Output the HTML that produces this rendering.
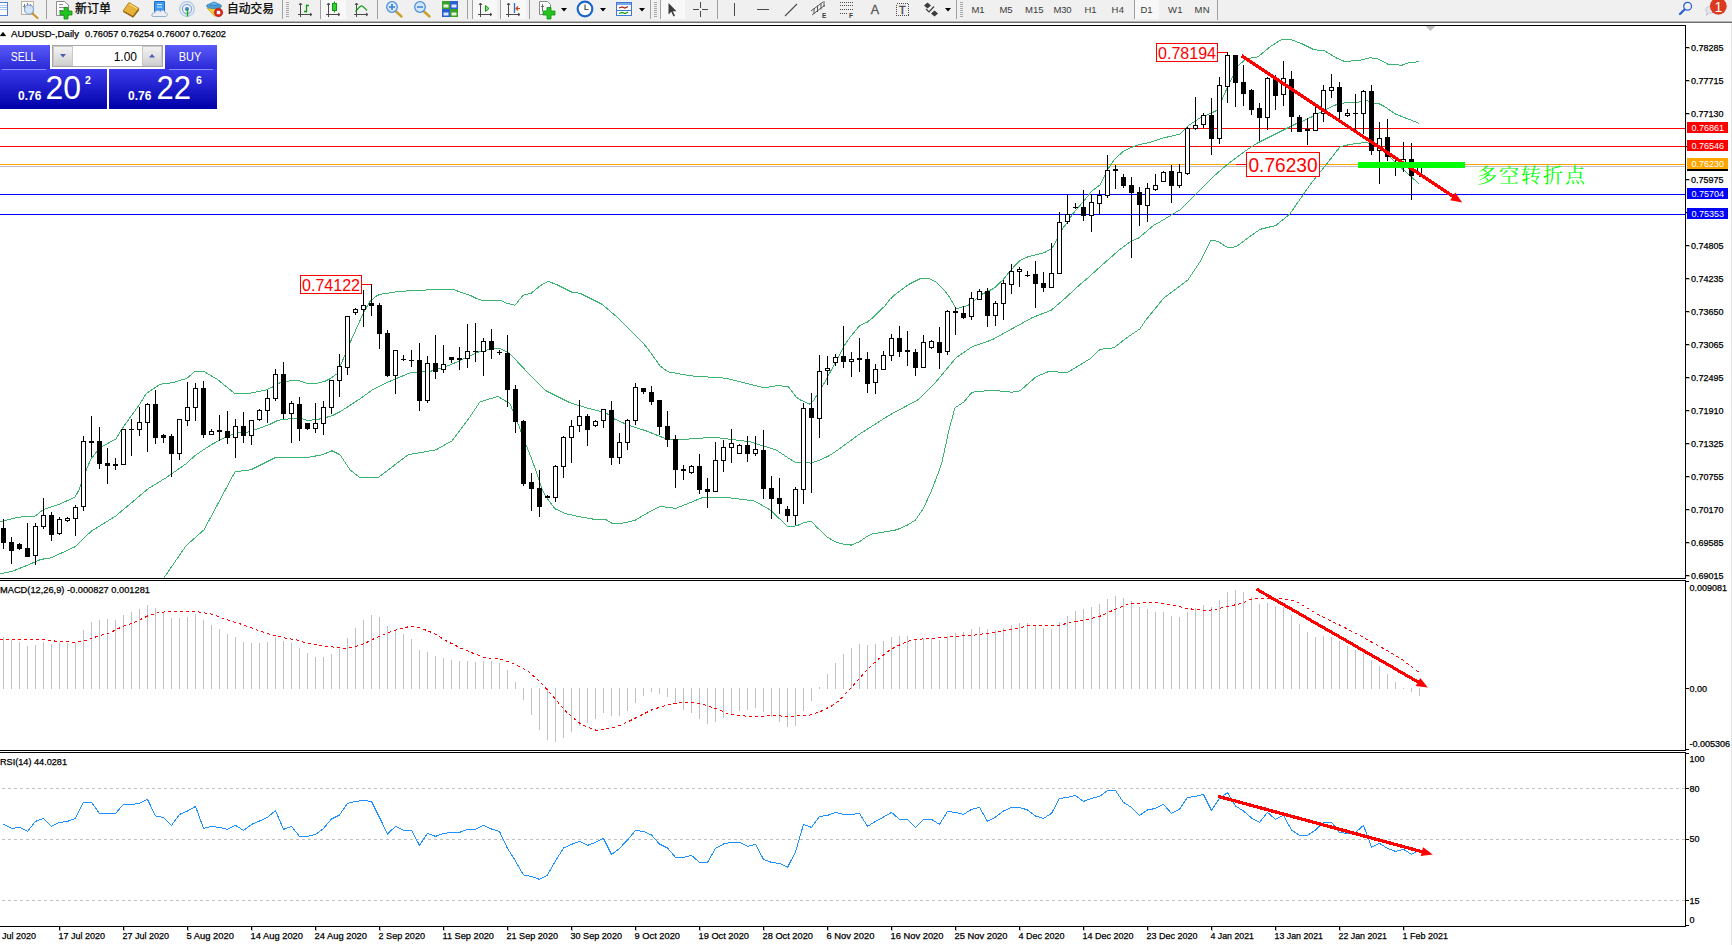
<!DOCTYPE html><html><head><meta charset="utf-8"><title>AUDUSD Daily</title><style>html,body{margin:0;padding:0;background:#fff}body{width:1732px;height:945px;overflow:hidden}svg{display:block}text{font-family:"Liberation Sans","Noto Sans CJK SC",sans-serif}.s{font-size:9px;fill:#000;stroke:#000;stroke-width:.25px}.cj{font-family:"Noto Serif CJK SC","Noto Sans CJK SC",serif}</style></head><body>
<svg width="1732" height="945" viewBox="0 0 1732 945">
<defs><linearGradient id="gb" x1="0" y1="0" x2="0" y2="1"><stop offset="0" stop-color="#3a3aec"/><stop offset="1" stop-color="#0000a8"/></linearGradient><linearGradient id="gt" x1="0" y1="0" x2="0" y2="1"><stop offset="0" stop-color="#5a5af8"/><stop offset="1" stop-color="#2a2ad8"/></linearGradient><linearGradient id="gs" x1="0" y1="0" x2="0" y2="1"><stop offset="0" stop-color="#f4f4f4"/><stop offset="1" stop-color="#cfcfcf"/></linearGradient></defs>
<rect width="1732" height="945" fill="#fff"/>
<g id="toolbar">
<rect x="0" y="0" width="1732" height="21" fill="#f0f0f0"/><rect x="0" y="21" width="1732" height="1" fill="#b4b4b4"/><rect x="0" y="22" width="1732" height="1" fill="#6e6e6e"/>
<g id="tb-icons" font-size="9.5" fill="#3a3a3a">
<!-- doc icon -->
<rect x="-6.5" y="2.5" width="14" height="13" fill="#fff" stroke="#4f7fd6"/><path d="M-4 5.5H7M-4 7.5H7M-4 9.5H7" stroke="#a9c3f2"/>
<!-- chart magnifier -->
<rect x="21.500" y="1.500" width="12" height="13" fill="#fbfaf6" stroke="#b9b2a4"/><path d="M24.500 4V10M27.500 3V8M30.500 4V9M23 6.500H26M29 5.500H32" stroke="#7d7d7d"/>
<circle cx="29" cy="9.500" r="4.500" fill="#cfe0f7" fill-opacity=".85" stroke="#7ea4e4" stroke-width="1.200"/><path d="M32.500 13.500L37.500 18" stroke="#c9982c" stroke-width="2.200" stroke-linecap="round"/>
<rect x="46" y="0" width="1" height="19" fill="#a0a0a0"/>
<!-- new order -->
<path d="M56.500 1.500H64.500L68.500 5V15.500H56.500Z" fill="#fff" stroke="#8c8c8c"/><path d="M59 4.500H63M59 7.500H66M59 10.500H63" stroke="#8c8c8c"/>
<path d="M64 7.500H68V11H72V15H68V19H64V15H60V11H64Z" fill="#22c422" stroke="#0f8f0f" stroke-width=".8"/>
<text x="75" y="13" font-size="12" fill="#000" stroke="#000" stroke-width=".25" textLength="36" lengthAdjust="spacingAndGlyphs">新订单</text>
<!-- gold book -->
<path d="M129 2.500L139 8.500L133 16.500L123 11Z" fill="#e7b23a" stroke="#b07c14" stroke-width=".9"/><path d="M123.500 11.500L133 16.800L138.800 9.500" fill="none" stroke="#8f6510" stroke-width="1.400"/><path d="M129.500 4L137 8.500" stroke="#f8dc84" stroke-width="1.200"/>
<!-- cloud server -->
<path d="M154.500 1.500H164.500V11.500H154.500Z" fill="#3b9bf0" stroke="#1f6fca"/><path d="M157 4.500H162M157 7H162" stroke="#d6ecff"/>
<path d="M153 16.500H165.500C168 16.500 168 12.500 165 12.500C165 10 161.500 9.500 160.500 11.500C158.500 9.500 155 10.500 155 12.500C151.500 12.500 151 16.500 153 16.500Z" fill="#e9eef6" stroke="#93a5c4" stroke-width=".9"/>
<!-- signals -->
<circle cx="187" cy="9" r="7.300" fill="none" stroke="#a9c6ea" stroke-width="1.200"/><circle cx="187" cy="9" r="4.600" fill="none" stroke="#7fa7df" stroke-width="1.200"/><circle cx="187" cy="9" r="2" fill="#3f7edb"/>
<path d="M187 9A7.300 7.300 0 0 1 187 16.300Z" fill="#8ed08e" fill-opacity=".7"/><path d="M187.500 9V16.500" stroke="#1fae1f" stroke-width="1.400"/>
<!-- autotrading -->
<path d="M207 8L221 7L215 16.500Z" fill="#f2cf3c" stroke="#c79b16" stroke-width=".8"/><ellipse cx="214" cy="6" rx="7.500" ry="2.600" fill="#4f9fd6" stroke="#2f7fb8" stroke-width=".8"/><path d="M210 5.500C210 1 218 1 218 5.500Z" fill="#5fb0e6" stroke="#2f7fb8" stroke-width=".8"/>
<circle cx="218.500" cy="12.500" r="4.200" fill="#d9261c" stroke="#a81810" stroke-width=".6"/><rect x="216.800" y="10.800" width="3.400" height="3.400" fill="#fff"/>
<text x="227" y="13" font-size="12" fill="#000" stroke="#000" stroke-width=".25" textLength="47" lengthAdjust="spacingAndGlyphs">自动交易</text>
<rect x="282" y="0" width="1" height="19" fill="#a0a0a0"/>
<path d="M286 2.500H289M286 4.500H289M286 6.500H289M286 8.500H289M286 10.500H289M286 12.500H289M286 14.500H289M286 16.500H289" stroke="#a8a8a8"/>
<!-- bar chart -->
<g stroke="#4a4a4a" fill="none"><path d="M300.500 3V17M298 14.500H312M299 5L300.500 3L302 5M310 13L312 14.500L310 16"/></g><path d="M306.500 4.500V12.500M306.500 5.500H309M304 11.500H306.500" stroke="#129a12" stroke-width="1.300" fill="none"/>
<rect x="320" y="0" width="1" height="19" fill="#a0a0a0"/><rect x="321" y="0" width="25" height="19" fill="#f8f8f8"/>
<g stroke="#4a4a4a" fill="none"><path d="M328.500 3V17M326 14.500H340M327 5L328.500 3L330 5M338 13L340 14.500L338 16"/></g><path d="M334.500 1.500V12.500" stroke="#129a12"/><rect x="332.500" y="3.500" width="4" height="7" fill="#2fd02f" stroke="#129a12"/>
<g stroke="#4a4a4a" fill="none"><path d="M356.500 3V17M354 14.500H368M355 5L356.500 3L358 5M366 13L368 14.500L366 16"/></g><path d="M355.500 11.500C358 9 360 5.500 362 6C364 6.500 365 9 367 10.500" fill="none" stroke="#129a12" stroke-width="1.200"/>
<rect x="377" y="0" width="1" height="19" fill="#a0a0a0"/>
<!-- zoom in/out -->
<path d="M396 11.500L401.500 16.500" stroke="#c9a02c" stroke-width="2.400" stroke-linecap="round"/><circle cx="392" cy="7" r="5.300" fill="#d4e7fb" stroke="#4f8fdc" stroke-width="1.300"/><path d="M389 7H395M392 4V10" stroke="#3d7fd0" stroke-width="1.500"/>
<path d="M424 11.500L429.500 16.500" stroke="#c9a02c" stroke-width="2.400" stroke-linecap="round"/><circle cx="420" cy="7" r="5.300" fill="#d4e7fb" stroke="#4f8fdc" stroke-width="1.300"/><path d="M417 7H423" stroke="#3d7fd0" stroke-width="1.500"/>
<!-- tile -->
<rect x="442" y="1" width="8" height="8" fill="#3aa02a"/><rect x="450" y="1" width="8" height="8" fill="#2a5fd0"/><rect x="442" y="9" width="8" height="8" fill="#2a5fd0"/><rect x="450" y="9" width="8" height="8" fill="#3aa02a"/>
<rect x="443.500" y="4.500" width="5" height="3" fill="#e8f4e0"/><rect x="451.500" y="4.500" width="5" height="3" fill="#e0e8fa"/><rect x="443.500" y="12.500" width="5" height="3" fill="#e0e8fa"/><rect x="451.500" y="12.500" width="5" height="3" fill="#e8f4e0"/>
<rect x="467" y="0" width="1" height="19" fill="#a0a0a0"/><rect x="472" y="0" width="1" height="19" fill="#a0a0a0"/><rect x="473" y="0" width="24" height="19" fill="#f8f8f8"/>
<g stroke="#4a4a4a" fill="none"><path d="M480.500 3V17M478 14.500H492M479 5L480.500 3L482 5M490 13L492 14.500L490 16"/></g><path d="M485.500 5.500L489 8.500L485.500 11.500Z" fill="#7fe07f" stroke="#129a12"/>
<rect x="500" y="0" width="1" height="19" fill="#a0a0a0"/><rect x="501" y="0" width="25" height="19" fill="#f8f8f8"/>
<g stroke="#4a4a4a" fill="none"><path d="M508.500 3V17M506 14.500H520M507 5L508.500 3L510 5M518 13L520 14.500L518 16"/></g><path d="M514.500 3V13" stroke="#2a6fc0" stroke-width="1.300"/><path d="M520 8.500H516M518 6.500L516 8.500L518 10.500" stroke="#d04a10" fill="none" stroke-width="1.200"/>
<rect x="529" y="0" width="1" height="19" fill="#a0a0a0"/>
<!-- new chart -->
<path d="M539.500 1.500H547.500L550.500 4.500V14.500H539.500Z" fill="#fff" stroke="#8c8c8c"/><path d="M542.500 4V11M541 6.500H544" stroke="#6a6a6a"/>
<path d="M547 7.500H551V11H555V15H551V19H547V15H543V11H547Z" fill="#22c422" stroke="#0f8f0f" stroke-width=".8"/>
<path d="M561 8H567L564 11.500Z" fill="#000"/>
<circle cx="585" cy="9" r="7.300" fill="#fff" stroke="#1f66cc" stroke-width="2.200"/><path d="M585 4.500V9.500H588.500" stroke="#555" fill="none" stroke-width="1.200"/>
<path d="M600 8H606L603 11.500Z" fill="#000"/>
<rect x="616.500" y="2.500" width="15" height="13" fill="#fff" stroke="#3f78d0"/><rect x="617" y="3" width="14" height="2" fill="#7aa8ea"/><path d="M619 8L622 7L625 8L628 6.500" stroke="#a02010" fill="none" stroke-width="1.200"/><path d="M617 10.500H631" stroke="#3f78d0"/><path d="M619 13.500L622 12.500L625 13.500L628 12" stroke="#129a12" fill="none" stroke-width="1.200"/>
<path d="M639 8H645L642 11.500Z" fill="#000"/>
<rect x="650" y="0" width="1" height="19" fill="#a0a0a0"/>
<path d="M654 2.500H657M654 4.500H657M654 6.500H657M654 8.500H657M654 10.500H657M654 12.500H657M654 14.500H657M654 16.500H657" stroke="#a8a8a8"/>
<rect x="660" y="0" width="1" height="19" fill="#a0a0a0"/><rect x="661" y="0" width="24" height="19" fill="#f8f8f8"/>
<path d="M668.500 3V14.500L671.300 11.800L673.500 16.500L675 15.800L672.800 11.200H676.500Z" fill="#3c3c3c"/>
<path d="M693 9.500H699M702 9.500H708M700.500 2V8M700.500 11V17" stroke="#4a4a4a"/>
<rect x="717" y="0" width="1" height="19" fill="#a0a0a0"/>
<path d="M734.500 3V16" stroke="#4a4a4a"/><path d="M757 9.500H769" stroke="#4a4a4a"/><path d="M785 16L797 4" stroke="#4a4a4a" stroke-width="1.100"/>
<path d="M811 11L823 2M812 15L825 5M814 8V14M817.500 5.500V12M821 3V9.500M824 1V7" stroke="#4a4a4a" stroke-width=".9" fill="none"/><text x="822" y="18" font-size="6.500" font-weight="bold">E</text>
<path d="M840 2.500H853M840 5.500H853M840 9.500H853M840 13.500H848" stroke="#4a4a4a" stroke-dasharray="1 1" shape-rendering="crispEdges"/><text x="849" y="18" font-size="6.500" font-weight="bold">F</text>
<text x="870.800" y="14" font-size="12.500" fill="#555" stroke="#555" stroke-width=".3">A</text>
<rect x="896.500" y="3.500" width="12" height="12" fill="none" stroke="#4a4a4a" stroke-dasharray="1 1" shape-rendering="crispEdges"/><text x="899" y="14" font-size="11" fill="#4a4a4a" stroke="#4a4a4a" stroke-width=".4">T</text>
<path d="M927.500 2.500L931 5.500L927.500 8.500L924 5.500ZM934.500 10.500L938 13.500L934.500 16.500L931 13.500Z" fill="#3c3c3c"/><path d="M926 9L929 12L934 6.500" stroke="#3c3c3c" fill="none" stroke-width="1.200"/>
<path d="M945 8H951L948 11.500Z" fill="#000"/>
<rect x="956" y="0" width="1" height="19" fill="#a0a0a0"/>
<path d="M960 2.500H963M960 4.500H963M960 6.500H963M960 8.500H963M960 10.500H963M960 12.500H963M960 14.500H963M960 16.500H963" stroke="#a8a8a8"/>
<text x="971.500" y="13" textLength="13">M1</text><text x="999.500" y="13" textLength="13">M5</text><text x="1025" y="13" textLength="18.500">M15</text><text x="1053.500" y="13" textLength="18">M30</text><text x="1084.500" y="13" textLength="12">H1</text><text x="1111.500" y="13" textLength="12.500">H4</text>
<rect x="1134" y="0" width="1" height="19" fill="#a0a0a0"/><rect x="1135" y="0" width="24" height="19" fill="#f8f8f8"/>
<text x="1140.500" y="13" textLength="12">D1</text><text x="1168" y="13" textLength="14.500">W1</text><text x="1194.500" y="13" textLength="15">MN</text>
<rect x="1217" y="0" width="1" height="20" fill="#a0a0a0"/>
<!-- search + chat -->
<circle cx="1687.600" cy="6.300" r="3.900" fill="#f0f0f0" stroke="#2f62d0" stroke-width="1.300"/><path d="M1684.600 9.500L1680 14" stroke="#2f62d0" stroke-width="2.400" stroke-linecap="round"/>
<path d="M1706 9C1706 5.500 1716 5.500 1716 9.500C1716 13 1710 13.500 1709 13L1706.500 15.500L1707 12.500C1706 11.500 1706 10.500 1706 9Z" fill="#e4e6ee" stroke="#b8bcc8" stroke-width=".8"/>
<circle cx="1718.300" cy="6.300" r="8.400" fill="#dc3a1e"/><text x="1718.500" y="11.500" font-size="14" fill="#fff" text-anchor="middle">1</text>
</g>

</g>
<g shape-rendering="crispEdges">
<rect x="0" y="25" width="1686" height="1" fill="#000"/>
<rect x="1685" y="25" width="1" height="902" fill="#000"/>
<rect x="0" y="578" width="1686" height="1" fill="#000"/>
<rect x="0" y="580" width="1686" height="1" fill="#000"/>
<rect x="0" y="750" width="1686" height="1" fill="#000"/>
<rect x="0" y="752" width="1686" height="1" fill="#000"/>
<rect x="0" y="926" width="1686" height="1" fill="#000"/>
<rect x="1731" y="23" width="1" height="922" fill="#e4e4e4"/><rect x="1685" y="579" width="1" height="1" fill="#fff"/><rect x="1685" y="751" width="1" height="1" fill="#fff"/>
</g>
<g shape-rendering="crispEdges">
<rect x="0" y="128" width="1685" height="1" fill="#ff0000"/>
<rect x="0" y="146" width="1685" height="1" fill="#ff0000"/>
<rect x="0" y="166" width="1685" height="1" fill="#c0c0c0"/>
<rect x="0" y="164" width="1685" height="1" fill="#ffa500"/>
<rect x="0" y="194" width="1685" height="1" fill="#0000ff"/>
<rect x="0" y="214" width="1685" height="1" fill="#0000ff"/>
</g>
<g clip-path="inset(0)">
<clipPath id="cm"><rect x="0" y="26" width="1685" height="552"/></clipPath>
<g clip-path="url(#cm)">
<polyline fill="none" shape-rendering="crispEdges" stroke="#3cb371" stroke-width="1"  points="0.0,521.8 18.0,517.2 35.0,516.2 43.0,509.8 58.0,504.8 75.0,497.2 79.0,489.8 86.0,470.8 91.0,458.8 100.0,447.8 116.0,438.8 122.0,428.8 140.0,403.8 146.0,393.8 160.0,384.3 172.0,382.8 187.0,378.3 195.0,371.3 203.0,371.0 218.0,379.8 235.0,393.8 247.0,393.8 265.0,390.3 272.0,387.3 280.0,382.8 290.0,380.8 300.0,381.0 307.0,383.3 318.0,383.1 325.0,381.3 330.0,378.8 337.0,373.8 345.0,354.8 350.0,342.8 363.0,313.8 370.0,301.3 376.0,296.3 380.0,294.3 390.0,292.8 400.0,291.3 430.0,289.8 454.0,289.8 470.0,295.3 476.0,298.3 482.0,300.3 500.0,300.3 507.0,303.3 515.0,305.3 523.0,295.3 531.0,293.3 540.0,285.8 548.0,281.3 556.0,284.3 572.0,292.3 580.0,293.3 602.0,304.3 615.0,315.3 630.0,329.8 643.0,342.8 650.0,351.8 660.0,365.8 668.0,371.8 690.0,375.8 726.0,378.2 764.0,387.8 776.0,385.8 788.0,386.2 796.0,396.8 800.0,399.8 810.0,404.2 814.0,399.8 820.0,389.8 825.0,381.8 832.0,368.8 838.0,357.8 844.0,345.8 850.0,337.3 860.0,325.3 867.0,322.3 872.0,318.3 885.0,305.8 890.0,299.3 896.0,293.8 908.0,284.8 920.0,278.8 928.0,278.2 936.0,281.8 944.0,289.8 950.0,297.8 956.0,308.8 968.0,305.4 982.0,294.3 994.0,288.3 1003.0,279.8 1012.0,268.8 1020.0,260.3 1028.0,256.8 1036.0,254.8 1044.0,252.8 1052.0,248.3 1057.0,239.3 1063.0,227.8 1068.0,221.8 1072.0,214.8 1084.0,200.8 1092.0,190.8 1100.0,184.8 1105.0,174.8 1110.0,165.8 1115.0,158.8 1124.0,150.8 1136.0,145.4 1152.0,141.8 1164.0,137.8 1180.0,134.2 1188.0,125.8 1200.0,117.8 1212.0,112.8 1218.0,109.8 1224.0,94.8 1232.0,77.8 1238.0,65.8 1246.0,58.8 1258.0,56.8 1270.0,46.8 1282.0,39.2 1290.0,39.2 1302.0,43.8 1314.0,49.8 1324.0,50.4 1336.0,57.8 1344.0,61.2 1358.0,60.8 1370.0,57.8 1378.0,58.8 1388.0,64.2 1402.0,65.2 1410.0,62.4 1419.0,61.8"/>
<polyline fill="none" shape-rendering="crispEdges" stroke="#3cb371" stroke-width="1"  points="0.0,573.8 12.0,571.4 26.0,565.8 41.0,559.4 51.0,557.8 75.0,546.8 91.0,531.4 116.0,515.8 148.0,488.8 166.0,477.8 186.0,463.8 196.0,454.8 212.0,444.3 226.0,436.8 238.0,432.8 247.0,432.3 255.0,429.8 270.0,424.3 278.0,420.3 290.0,418.8 302.0,418.8 307.0,420.3 316.0,419.8 325.0,417.8 333.0,415.3 340.0,411.8 360.0,398.8 374.0,388.8 392.0,380.3 411.0,372.5 430.0,371.5 450.0,365.0 470.0,356.0 480.0,351.3 496.0,348.3 500.0,348.3 510.0,353.8 526.0,370.8 546.0,390.8 570.0,402.8 590.0,408.8 606.0,412.8 614.0,418.8 630.0,425.8 646.0,430.8 666.0,438.8 678.0,439.8 714.0,437.2 750.0,441.8 776.0,449.8 790.0,459.1 795.0,462.1 803.0,462.1 811.0,463.1 819.0,460.5 829.0,455.8 838.0,449.8 860.0,433.8 890.0,414.8 918.0,399.8 936.0,381.8 956.0,357.8 972.0,346.8 992.0,339.8 1012.0,328.8 1032.0,317.8 1042.0,313.8 1051.0,310.3 1064.0,299.3 1078.0,286.3 1088.0,277.8 1104.0,263.3 1120.0,249.3 1131.0,241.3 1139.0,237.8 1153.0,225.8 1160.0,221.8 1180.0,209.8 1196.0,193.8 1212.0,177.8 1228.0,163.8 1244.0,151.8 1256.0,143.8 1272.0,135.8 1282.0,130.8 1296.0,123.8 1302.0,121.3 1313.0,116.3 1325.0,109.8 1336.0,104.8 1344.0,103.0 1358.0,102.3 1362.0,100.5 1368.0,101.0 1370.0,103.0 1378.0,103.3 1385.0,106.8 1395.0,113.8 1405.0,117.8 1419.0,123.3"/>
<polyline fill="none" shape-rendering="crispEdges" stroke="#3cb371" stroke-width="1"  points="164.0,577.8 186.0,545.8 204.0,529.8 235.0,471.8 251.0,469.8 275.0,457.8 306.0,457.8 322.0,454.8 332.0,450.8 340.0,454.8 350.0,469.8 360.0,477.8 378.0,477.8 408.0,454.8 436.0,449.8 452.0,440.8 470.0,416.8 480.0,401.8 498.0,396.4 510.0,403.8 520.0,428.8 526.0,444.8 532.0,459.8 538.0,476.8 542.0,488.8 546.0,496.8 555.0,508.8 566.0,513.8 580.0,516.8 593.0,519.1 605.0,519.1 612.0,523.3 620.0,523.8 635.0,520.3 646.0,513.8 660.0,506.3 676.0,508.4 702.0,497.8 726.0,497.4 754.0,500.8 770.0,509.8 788.0,526.8 796.7,525.8 803.3,522.8 811.3,521.1 816.7,527.1 827.3,537.1 835.3,541.8 843.3,544.2 851.3,545.1 859.3,541.8 866.0,537.1 872.7,533.8 883.3,532.2 896.7,529.8 907.3,525.1 915.3,520.2 923.3,508.5 931.3,491.1 938.0,473.8 942.0,461.8 944.7,449.8 949.0,429.8 955.0,407.8 964.0,401.8 972.0,392.2 992.0,390.2 1012.0,392.2 1020.0,390.8 1036.0,376.8 1048.0,371.8 1068.0,372.2 1090.0,358.8 1100.0,349.4 1114.0,347.8 1128.0,336.8 1140.0,328.8 1146.0,319.8 1164.0,297.8 1188.0,279.8 1200.0,261.8 1211.0,240.2 1218.0,241.4 1228.0,247.8 1236.0,246.8 1248.0,237.8 1260.0,229.4 1276.0,225.4 1290.0,213.8 1310.0,184.8 1326.0,164.8 1340.0,146.8 1350.0,144.4 1366.0,142.4 1374.0,144.8 1386.0,152.8 1398.0,164.8 1410.0,175.8 1419.0,183.8"/>
</g></g>
<g shape-rendering="crispEdges" fill="#000">
<rect x="3" y="519" width="1" height="30"/>
<rect x="1" y="528" width="5" height="15"/>
<rect x="11" y="537" width="1" height="27"/>
<rect x="9" y="542" width="5" height="9"/>
<rect x="19" y="543" width="1" height="7"/>
<rect x="17" y="544" width="5" height="5"/>
<rect x="27" y="523" width="1" height="34"/>
<rect x="25" y="548" width="5" height="9"/>
<rect x="35" y="523" width="1" height="42"/>
<rect x="33" y="526" width="5" height="30"/>
<rect x="34" y="527" width="3" height="28" fill="#fff"/>
<rect x="43" y="498" width="1" height="31"/>
<rect x="41" y="515" width="5" height="12"/>
<rect x="42" y="516" width="3" height="10" fill="#fff"/>
<rect x="51" y="512" width="1" height="29"/>
<rect x="49" y="515" width="5" height="20"/>
<rect x="59" y="517" width="1" height="18"/>
<rect x="57" y="519" width="5" height="15"/>
<rect x="58" y="520" width="3" height="13" fill="#fff"/>
<rect x="67" y="517" width="1" height="5"/>
<rect x="65" y="518" width="5" height="3"/>
<rect x="66" y="519" width="3" height="1" fill="#fff"/>
<rect x="75" y="505" width="1" height="31"/>
<rect x="73" y="507" width="5" height="12"/>
<rect x="74" y="508" width="3" height="10" fill="#fff"/>
<rect x="83" y="436" width="1" height="75"/>
<rect x="81" y="441" width="5" height="66"/>
<rect x="82" y="442" width="3" height="64" fill="#fff"/>
<rect x="91" y="416" width="1" height="41"/>
<rect x="89" y="441" width="5" height="2"/>
<rect x="99" y="427" width="1" height="42"/>
<rect x="97" y="441" width="5" height="23"/>
<rect x="107" y="448" width="1" height="36"/>
<rect x="105" y="463" width="5" height="3"/>
<rect x="115" y="458" width="1" height="12"/>
<rect x="113" y="464" width="5" height="2"/>
<rect x="123" y="429" width="1" height="36"/>
<rect x="121" y="429" width="5" height="36"/>
<rect x="122" y="430" width="3" height="34" fill="#fff"/>
<rect x="131" y="419" width="1" height="37"/>
<rect x="129" y="429" width="5" height="1"/>
<rect x="139" y="407" width="1" height="29"/>
<rect x="137" y="422" width="5" height="8"/>
<rect x="138" y="423" width="3" height="6" fill="#fff"/>
<rect x="147" y="403" width="1" height="49"/>
<rect x="145" y="404" width="5" height="19"/>
<rect x="146" y="405" width="3" height="17" fill="#fff"/>
<rect x="155" y="390" width="1" height="54"/>
<rect x="153" y="404" width="5" height="34"/>
<rect x="163" y="434" width="1" height="9"/>
<rect x="161" y="435" width="5" height="3"/>
<rect x="171" y="434" width="1" height="43"/>
<rect x="169" y="436" width="5" height="18"/>
<rect x="179" y="419" width="1" height="41"/>
<rect x="177" y="419" width="5" height="35"/>
<rect x="178" y="420" width="3" height="33" fill="#fff"/>
<rect x="187" y="382" width="1" height="44"/>
<rect x="185" y="407" width="5" height="14"/>
<rect x="186" y="408" width="3" height="12" fill="#fff"/>
<rect x="195" y="383" width="1" height="38"/>
<rect x="193" y="388" width="5" height="20"/>
<rect x="194" y="389" width="3" height="18" fill="#fff"/>
<rect x="203" y="381" width="1" height="57"/>
<rect x="201" y="388" width="5" height="47"/>
<rect x="211" y="429" width="1" height="6"/>
<rect x="209" y="431" width="5" height="4"/>
<rect x="210" y="432" width="3" height="2" fill="#fff"/>
<rect x="219" y="415" width="1" height="26"/>
<rect x="217" y="430" width="5" height="2"/>
<rect x="227" y="411" width="1" height="33"/>
<rect x="225" y="431" width="5" height="7"/>
<rect x="235" y="419" width="1" height="39"/>
<rect x="233" y="426" width="5" height="12"/>
<rect x="234" y="427" width="3" height="10" fill="#fff"/>
<rect x="243" y="412" width="1" height="31"/>
<rect x="241" y="426" width="5" height="10"/>
<rect x="251" y="420" width="1" height="25"/>
<rect x="249" y="420" width="5" height="16"/>
<rect x="250" y="421" width="3" height="14" fill="#fff"/>
<rect x="259" y="409" width="1" height="12"/>
<rect x="257" y="410" width="5" height="10"/>
<rect x="258" y="411" width="3" height="8" fill="#fff"/>
<rect x="267" y="390" width="1" height="33"/>
<rect x="265" y="398" width="5" height="13"/>
<rect x="266" y="399" width="3" height="11" fill="#fff"/>
<rect x="275" y="369" width="1" height="32"/>
<rect x="273" y="374" width="5" height="25"/>
<rect x="274" y="375" width="3" height="23" fill="#fff"/>
<rect x="283" y="362" width="1" height="57"/>
<rect x="281" y="374" width="5" height="40"/>
<rect x="291" y="401" width="1" height="42"/>
<rect x="289" y="403" width="5" height="11"/>
<rect x="290" y="404" width="3" height="9" fill="#fff"/>
<rect x="299" y="397" width="1" height="44"/>
<rect x="297" y="404" width="5" height="25"/>
<rect x="307" y="423" width="1" height="7"/>
<rect x="305" y="423" width="5" height="6"/>
<rect x="315" y="403" width="1" height="30"/>
<rect x="313" y="423" width="5" height="6"/>
<rect x="314" y="424" width="3" height="4" fill="#fff"/>
<rect x="323" y="401" width="1" height="34"/>
<rect x="321" y="407" width="5" height="17"/>
<rect x="322" y="408" width="3" height="15" fill="#fff"/>
<rect x="331" y="380" width="1" height="34"/>
<rect x="329" y="380" width="5" height="28"/>
<rect x="330" y="381" width="3" height="26" fill="#fff"/>
<rect x="339" y="354" width="1" height="43"/>
<rect x="337" y="366" width="5" height="15"/>
<rect x="338" y="367" width="3" height="13" fill="#fff"/>
<rect x="347" y="316" width="1" height="59"/>
<rect x="345" y="316" width="5" height="52"/>
<rect x="346" y="317" width="3" height="50" fill="#fff"/>
<rect x="355" y="308" width="1" height="7"/>
<rect x="353" y="309" width="5" height="4"/>
<rect x="354" y="310" width="3" height="2" fill="#fff"/>
<rect x="363" y="290" width="1" height="37"/>
<rect x="361" y="305" width="5" height="5"/>
<rect x="362" y="306" width="3" height="3" fill="#fff"/>
<rect x="371" y="284" width="1" height="32"/>
<rect x="369" y="303" width="5" height="3"/>
<rect x="379" y="303" width="1" height="46"/>
<rect x="377" y="305" width="5" height="29"/>
<rect x="387" y="330" width="1" height="47"/>
<rect x="385" y="333" width="5" height="43"/>
<rect x="395" y="350" width="1" height="44"/>
<rect x="393" y="350" width="5" height="26"/>
<rect x="394" y="351" width="3" height="24" fill="#fff"/>
<rect x="403" y="355" width="1" height="6"/>
<rect x="401" y="359" width="5" height="1"/>
<rect x="411" y="350" width="1" height="17"/>
<rect x="409" y="360" width="5" height="1"/>
<rect x="419" y="343" width="1" height="68"/>
<rect x="417" y="360" width="5" height="41"/>
<rect x="427" y="356" width="1" height="47"/>
<rect x="425" y="363" width="5" height="38"/>
<rect x="426" y="364" width="3" height="36" fill="#fff"/>
<rect x="435" y="335" width="1" height="44"/>
<rect x="433" y="363" width="5" height="9"/>
<rect x="443" y="345" width="1" height="28"/>
<rect x="441" y="364" width="5" height="6"/>
<rect x="442" y="365" width="3" height="4" fill="#fff"/>
<rect x="451" y="357" width="1" height="6"/>
<rect x="449" y="357" width="5" height="3"/>
<rect x="459" y="347" width="1" height="23"/>
<rect x="457" y="358" width="5" height="2"/>
<rect x="467" y="324" width="1" height="44"/>
<rect x="465" y="351" width="5" height="8"/>
<rect x="466" y="352" width="3" height="6" fill="#fff"/>
<rect x="475" y="323" width="1" height="39"/>
<rect x="473" y="351" width="5" height="1"/>
<rect x="483" y="338" width="1" height="38"/>
<rect x="481" y="341" width="5" height="11"/>
<rect x="482" y="342" width="3" height="9" fill="#fff"/>
<rect x="491" y="329" width="1" height="30"/>
<rect x="489" y="341" width="5" height="9"/>
<rect x="499" y="350" width="1" height="5"/>
<rect x="497" y="352" width="5" height="1"/>
<rect x="507" y="335" width="1" height="72"/>
<rect x="505" y="353" width="5" height="37"/>
<rect x="515" y="385" width="1" height="48"/>
<rect x="513" y="389" width="5" height="33"/>
<rect x="523" y="420" width="1" height="66"/>
<rect x="521" y="421" width="5" height="63"/>
<rect x="531" y="473" width="1" height="38"/>
<rect x="529" y="482" width="5" height="7"/>
<rect x="539" y="470" width="1" height="47"/>
<rect x="537" y="488" width="5" height="19"/>
<rect x="547" y="495" width="1" height="3"/>
<rect x="545" y="496" width="5" height="2"/>
<rect x="555" y="465" width="1" height="37"/>
<rect x="553" y="466" width="5" height="32"/>
<rect x="554" y="467" width="3" height="30" fill="#fff"/>
<rect x="563" y="436" width="1" height="42"/>
<rect x="561" y="437" width="5" height="30"/>
<rect x="562" y="438" width="3" height="28" fill="#fff"/>
<rect x="571" y="420" width="1" height="43"/>
<rect x="569" y="426" width="5" height="12"/>
<rect x="570" y="427" width="3" height="10" fill="#fff"/>
<rect x="579" y="400" width="1" height="32"/>
<rect x="577" y="416" width="5" height="10"/>
<rect x="578" y="417" width="3" height="8" fill="#fff"/>
<rect x="587" y="414" width="1" height="32"/>
<rect x="585" y="416" width="5" height="14"/>
<rect x="595" y="420" width="1" height="7"/>
<rect x="593" y="421" width="5" height="5"/>
<rect x="594" y="422" width="3" height="3" fill="#fff"/>
<rect x="603" y="409" width="1" height="19"/>
<rect x="601" y="409" width="5" height="12"/>
<rect x="602" y="410" width="3" height="10" fill="#fff"/>
<rect x="611" y="401" width="1" height="64"/>
<rect x="609" y="410" width="5" height="48"/>
<rect x="619" y="433" width="1" height="31"/>
<rect x="617" y="442" width="5" height="16"/>
<rect x="618" y="443" width="3" height="14" fill="#fff"/>
<rect x="627" y="419" width="1" height="31"/>
<rect x="625" y="420" width="5" height="23"/>
<rect x="626" y="421" width="3" height="21" fill="#fff"/>
<rect x="635" y="383" width="1" height="42"/>
<rect x="633" y="387" width="5" height="34"/>
<rect x="634" y="388" width="3" height="32" fill="#fff"/>
<rect x="643" y="388" width="1" height="6"/>
<rect x="641" y="388" width="5" height="4"/>
<rect x="651" y="386" width="1" height="19"/>
<rect x="649" y="392" width="5" height="10"/>
<rect x="659" y="400" width="1" height="35"/>
<rect x="657" y="400" width="5" height="27"/>
<rect x="667" y="411" width="1" height="36"/>
<rect x="665" y="426" width="5" height="14"/>
<rect x="675" y="435" width="1" height="53"/>
<rect x="673" y="439" width="5" height="31"/>
<rect x="683" y="465" width="1" height="15"/>
<rect x="681" y="469" width="5" height="2"/>
<rect x="691" y="465" width="1" height="9"/>
<rect x="689" y="466" width="5" height="7"/>
<rect x="690" y="467" width="3" height="5" fill="#fff"/>
<rect x="699" y="454" width="1" height="40"/>
<rect x="697" y="466" width="5" height="24"/>
<rect x="707" y="478" width="1" height="30"/>
<rect x="705" y="489" width="5" height="3"/>
<rect x="715" y="442" width="1" height="50"/>
<rect x="713" y="460" width="5" height="32"/>
<rect x="714" y="461" width="3" height="30" fill="#fff"/>
<rect x="723" y="440" width="1" height="32"/>
<rect x="721" y="447" width="5" height="14"/>
<rect x="722" y="448" width="3" height="12" fill="#fff"/>
<rect x="731" y="429" width="1" height="34"/>
<rect x="729" y="443" width="5" height="5"/>
<rect x="730" y="444" width="3" height="3" fill="#fff"/>
<rect x="739" y="444" width="1" height="10"/>
<rect x="737" y="445" width="5" height="9"/>
<rect x="738" y="446" width="3" height="7" fill="#fff"/>
<rect x="747" y="436" width="1" height="26"/>
<rect x="745" y="445" width="5" height="9"/>
<rect x="755" y="436" width="1" height="20"/>
<rect x="753" y="449" width="5" height="5"/>
<rect x="754" y="450" width="3" height="3" fill="#fff"/>
<rect x="763" y="430" width="1" height="69"/>
<rect x="761" y="450" width="5" height="39"/>
<rect x="771" y="476" width="1" height="43"/>
<rect x="769" y="488" width="5" height="11"/>
<rect x="779" y="478" width="1" height="36"/>
<rect x="777" y="498" width="5" height="6"/>
<rect x="787" y="506" width="1" height="16"/>
<rect x="785" y="509" width="5" height="7"/>
<rect x="795" y="487" width="1" height="38"/>
<rect x="793" y="489" width="5" height="27"/>
<rect x="794" y="490" width="3" height="25" fill="#fff"/>
<rect x="803" y="403" width="1" height="101"/>
<rect x="801" y="408" width="5" height="82"/>
<rect x="802" y="409" width="3" height="80" fill="#fff"/>
<rect x="811" y="393" width="1" height="100"/>
<rect x="809" y="408" width="5" height="10"/>
<rect x="819" y="355" width="1" height="83"/>
<rect x="817" y="371" width="5" height="48"/>
<rect x="818" y="372" width="3" height="46" fill="#fff"/>
<rect x="827" y="356" width="1" height="29"/>
<rect x="825" y="368" width="5" height="3"/>
<rect x="826" y="369" width="3" height="1" fill="#fff"/>
<rect x="835" y="354" width="1" height="12"/>
<rect x="833" y="357" width="5" height="6"/>
<rect x="834" y="358" width="3" height="4" fill="#fff"/>
<rect x="843" y="326" width="1" height="42"/>
<rect x="841" y="356" width="5" height="6"/>
<rect x="851" y="352" width="1" height="25"/>
<rect x="849" y="359" width="5" height="3"/>
<rect x="850" y="360" width="3" height="1" fill="#fff"/>
<rect x="859" y="338" width="1" height="34"/>
<rect x="857" y="358" width="5" height="2"/>
<rect x="867" y="352" width="1" height="41"/>
<rect x="865" y="359" width="5" height="25"/>
<rect x="875" y="364" width="1" height="30"/>
<rect x="873" y="369" width="5" height="14"/>
<rect x="874" y="370" width="3" height="12" fill="#fff"/>
<rect x="883" y="351" width="1" height="19"/>
<rect x="881" y="355" width="5" height="15"/>
<rect x="882" y="356" width="3" height="13" fill="#fff"/>
<rect x="891" y="334" width="1" height="27"/>
<rect x="889" y="338" width="5" height="18"/>
<rect x="890" y="339" width="3" height="16" fill="#fff"/>
<rect x="899" y="326" width="1" height="31"/>
<rect x="897" y="338" width="5" height="14"/>
<rect x="907" y="331" width="1" height="35"/>
<rect x="905" y="350" width="5" height="2"/>
<rect x="915" y="349" width="1" height="27"/>
<rect x="913" y="352" width="5" height="16"/>
<rect x="923" y="335" width="1" height="33"/>
<rect x="921" y="342" width="5" height="26"/>
<rect x="922" y="343" width="3" height="24" fill="#fff"/>
<rect x="931" y="340" width="1" height="9"/>
<rect x="929" y="341" width="5" height="7"/>
<rect x="930" y="342" width="3" height="5" fill="#fff"/>
<rect x="939" y="327" width="1" height="42"/>
<rect x="937" y="342" width="5" height="11"/>
<rect x="947" y="310" width="1" height="45"/>
<rect x="945" y="311" width="5" height="41"/>
<rect x="946" y="312" width="3" height="39" fill="#fff"/>
<rect x="955" y="307" width="1" height="28"/>
<rect x="953" y="311" width="5" height="2"/>
<rect x="963" y="306" width="1" height="13"/>
<rect x="961" y="313" width="5" height="5"/>
<rect x="971" y="292" width="1" height="28"/>
<rect x="969" y="298" width="5" height="19"/>
<rect x="970" y="299" width="3" height="17" fill="#fff"/>
<rect x="979" y="289" width="1" height="11"/>
<rect x="977" y="291" width="5" height="9"/>
<rect x="978" y="292" width="3" height="7" fill="#fff"/>
<rect x="987" y="288" width="1" height="39"/>
<rect x="985" y="291" width="5" height="25"/>
<rect x="995" y="301" width="1" height="25"/>
<rect x="993" y="303" width="5" height="13"/>
<rect x="994" y="304" width="3" height="11" fill="#fff"/>
<rect x="1003" y="280" width="1" height="40"/>
<rect x="1001" y="283" width="5" height="21"/>
<rect x="1002" y="284" width="3" height="19" fill="#fff"/>
<rect x="1011" y="264" width="1" height="30"/>
<rect x="1009" y="271" width="5" height="14"/>
<rect x="1010" y="272" width="3" height="12" fill="#fff"/>
<rect x="1019" y="267" width="1" height="20"/>
<rect x="1017" y="269" width="5" height="3"/>
<rect x="1018" y="270" width="3" height="1" fill="#fff"/>
<rect x="1027" y="271" width="1" height="6"/>
<rect x="1025" y="275" width="5" height="1"/>
<rect x="1035" y="261" width="1" height="47"/>
<rect x="1033" y="274" width="5" height="10"/>
<rect x="1043" y="272" width="1" height="20"/>
<rect x="1041" y="283" width="5" height="5"/>
<rect x="1051" y="243" width="1" height="45"/>
<rect x="1049" y="273" width="5" height="15"/>
<rect x="1050" y="274" width="3" height="13" fill="#fff"/>
<rect x="1059" y="212" width="1" height="62"/>
<rect x="1057" y="222" width="5" height="52"/>
<rect x="1058" y="223" width="3" height="50" fill="#fff"/>
<rect x="1067" y="194" width="1" height="30"/>
<rect x="1065" y="214" width="5" height="8"/>
<rect x="1066" y="215" width="3" height="6" fill="#fff"/>
<rect x="1075" y="203" width="1" height="6"/>
<rect x="1073" y="207" width="5" height="1"/>
<rect x="1083" y="190" width="1" height="31"/>
<rect x="1081" y="207" width="5" height="9"/>
<rect x="1091" y="194" width="1" height="38"/>
<rect x="1089" y="202" width="5" height="14"/>
<rect x="1090" y="203" width="3" height="12" fill="#fff"/>
<rect x="1099" y="190" width="1" height="24"/>
<rect x="1097" y="195" width="5" height="9"/>
<rect x="1098" y="196" width="3" height="7" fill="#fff"/>
<rect x="1107" y="155" width="1" height="43"/>
<rect x="1105" y="170" width="5" height="26"/>
<rect x="1106" y="171" width="3" height="24" fill="#fff"/>
<rect x="1115" y="165" width="1" height="24"/>
<rect x="1113" y="169" width="5" height="2"/>
<rect x="1123" y="174" width="1" height="14"/>
<rect x="1121" y="177" width="5" height="9"/>
<rect x="1131" y="177" width="1" height="81"/>
<rect x="1129" y="185" width="5" height="8"/>
<rect x="1139" y="187" width="1" height="39"/>
<rect x="1137" y="192" width="5" height="13"/>
<rect x="1147" y="183" width="1" height="39"/>
<rect x="1145" y="188" width="5" height="18"/>
<rect x="1146" y="189" width="3" height="16" fill="#fff"/>
<rect x="1155" y="174" width="1" height="17"/>
<rect x="1153" y="185" width="5" height="5"/>
<rect x="1154" y="186" width="3" height="3" fill="#fff"/>
<rect x="1163" y="171" width="1" height="11"/>
<rect x="1161" y="172" width="5" height="10"/>
<rect x="1162" y="173" width="3" height="8" fill="#fff"/>
<rect x="1171" y="165" width="1" height="38"/>
<rect x="1169" y="171" width="5" height="15"/>
<rect x="1179" y="164" width="1" height="24"/>
<rect x="1177" y="172" width="5" height="14"/>
<rect x="1178" y="173" width="3" height="12" fill="#fff"/>
<rect x="1187" y="127" width="1" height="48"/>
<rect x="1185" y="128" width="5" height="46"/>
<rect x="1186" y="129" width="3" height="44" fill="#fff"/>
<rect x="1195" y="97" width="1" height="33"/>
<rect x="1193" y="125" width="5" height="4"/>
<rect x="1194" y="126" width="3" height="2" fill="#fff"/>
<rect x="1203" y="113" width="1" height="15"/>
<rect x="1201" y="115" width="5" height="10"/>
<rect x="1202" y="116" width="3" height="8" fill="#fff"/>
<rect x="1211" y="98" width="1" height="57"/>
<rect x="1209" y="115" width="5" height="24"/>
<rect x="1219" y="77" width="1" height="67"/>
<rect x="1217" y="85" width="5" height="54"/>
<rect x="1218" y="86" width="3" height="52" fill="#fff"/>
<rect x="1227" y="52" width="1" height="51"/>
<rect x="1225" y="55" width="5" height="32"/>
<rect x="1226" y="56" width="3" height="30" fill="#fff"/>
<rect x="1235" y="55" width="1" height="52"/>
<rect x="1233" y="55" width="5" height="28"/>
<rect x="1243" y="65" width="1" height="41"/>
<rect x="1241" y="82" width="5" height="12"/>
<rect x="1251" y="89" width="1" height="26"/>
<rect x="1249" y="90" width="5" height="20"/>
<rect x="1259" y="103" width="1" height="38"/>
<rect x="1257" y="108" width="5" height="10"/>
<rect x="1267" y="77" width="1" height="53"/>
<rect x="1265" y="78" width="5" height="40"/>
<rect x="1266" y="79" width="3" height="38" fill="#fff"/>
<rect x="1275" y="75" width="1" height="35"/>
<rect x="1273" y="78" width="5" height="18"/>
<rect x="1283" y="61" width="1" height="45"/>
<rect x="1281" y="78" width="5" height="17"/>
<rect x="1282" y="79" width="3" height="15" fill="#fff"/>
<rect x="1291" y="71" width="1" height="61"/>
<rect x="1289" y="79" width="5" height="38"/>
<rect x="1299" y="115" width="1" height="17"/>
<rect x="1297" y="117" width="5" height="15"/>
<rect x="1307" y="118" width="1" height="27"/>
<rect x="1305" y="129" width="5" height="2"/>
<rect x="1315" y="107" width="1" height="24"/>
<rect x="1313" y="113" width="5" height="18"/>
<rect x="1314" y="114" width="3" height="16" fill="#fff"/>
<rect x="1323" y="85" width="1" height="37"/>
<rect x="1321" y="90" width="5" height="24"/>
<rect x="1322" y="91" width="3" height="22" fill="#fff"/>
<rect x="1331" y="74" width="1" height="24"/>
<rect x="1329" y="87" width="5" height="4"/>
<rect x="1330" y="88" width="3" height="2" fill="#fff"/>
<rect x="1339" y="82" width="1" height="37"/>
<rect x="1337" y="87" width="5" height="25"/>
<rect x="1347" y="109" width="1" height="8"/>
<rect x="1345" y="113" width="5" height="3"/>
<rect x="1346" y="114" width="3" height="1" fill="#fff"/>
<rect x="1355" y="94" width="1" height="36"/>
<rect x="1353" y="113" width="5" height="1"/>
<rect x="1363" y="90" width="1" height="44"/>
<rect x="1361" y="91" width="5" height="23"/>
<rect x="1362" y="92" width="3" height="21" fill="#fff"/>
<rect x="1371" y="85" width="1" height="70"/>
<rect x="1369" y="91" width="5" height="60"/>
<rect x="1379" y="122" width="1" height="62"/>
<rect x="1377" y="138" width="5" height="13"/>
<rect x="1378" y="139" width="3" height="11" fill="#fff"/>
<rect x="1387" y="119" width="1" height="42"/>
<rect x="1385" y="137" width="5" height="20"/>
<rect x="1395" y="158" width="1" height="18"/>
<rect x="1393" y="163" width="5" height="2"/>
<rect x="1403" y="142" width="1" height="30"/>
<rect x="1401" y="159" width="5" height="7"/>
<rect x="1402" y="160" width="3" height="5" fill="#fff"/>
<rect x="1411" y="143" width="1" height="57"/>
<rect x="1409" y="159" width="5" height="17"/>
<rect x="1419" y="163" width="1" height="14"/>
<rect x="1417" y="166" width="5" height="8"/>
<rect x="1418" y="167" width="3" height="6" fill="#fff"/>
</g>
<g shape-rendering="crispEdges" fill="#c0c0c0">
<rect x="3" y="637" width="1" height="52"/>
<rect x="11" y="640" width="1" height="49"/>
<rect x="19" y="642" width="1" height="47"/>
<rect x="27" y="646" width="1" height="43"/>
<rect x="35" y="645" width="1" height="44"/>
<rect x="43" y="642" width="1" height="47"/>
<rect x="51" y="644" width="1" height="45"/>
<rect x="59" y="643" width="1" height="46"/>
<rect x="67" y="643" width="1" height="46"/>
<rect x="75" y="643" width="1" height="46"/>
<rect x="83" y="630" width="1" height="59"/>
<rect x="91" y="622" width="1" height="67"/>
<rect x="99" y="620" width="1" height="69"/>
<rect x="107" y="619" width="1" height="70"/>
<rect x="115" y="620" width="1" height="69"/>
<rect x="123" y="615" width="1" height="74"/>
<rect x="131" y="612" width="1" height="77"/>
<rect x="139" y="609" width="1" height="80"/>
<rect x="147" y="605" width="1" height="84"/>
<rect x="155" y="608" width="1" height="81"/>
<rect x="163" y="612" width="1" height="77"/>
<rect x="171" y="618" width="1" height="71"/>
<rect x="179" y="618" width="1" height="71"/>
<rect x="187" y="617" width="1" height="72"/>
<rect x="195" y="614" width="1" height="75"/>
<rect x="203" y="620" width="1" height="69"/>
<rect x="211" y="625" width="1" height="64"/>
<rect x="219" y="629" width="1" height="60"/>
<rect x="227" y="634" width="1" height="55"/>
<rect x="235" y="637" width="1" height="52"/>
<rect x="243" y="642" width="1" height="47"/>
<rect x="251" y="643" width="1" height="46"/>
<rect x="259" y="643" width="1" height="46"/>
<rect x="267" y="642" width="1" height="47"/>
<rect x="275" y="637" width="1" height="52"/>
<rect x="283" y="641" width="1" height="48"/>
<rect x="291" y="643" width="1" height="46"/>
<rect x="299" y="648" width="1" height="41"/>
<rect x="307" y="653" width="1" height="36"/>
<rect x="315" y="657" width="1" height="32"/>
<rect x="323" y="657" width="1" height="32"/>
<rect x="331" y="654" width="1" height="35"/>
<rect x="339" y="649" width="1" height="40"/>
<rect x="347" y="638" width="1" height="51"/>
<rect x="355" y="628" width="1" height="61"/>
<rect x="363" y="620" width="1" height="69"/>
<rect x="371" y="615" width="1" height="74"/>
<rect x="379" y="617" width="1" height="72"/>
<rect x="387" y="626" width="1" height="63"/>
<rect x="395" y="629" width="1" height="60"/>
<rect x="403" y="634" width="1" height="55"/>
<rect x="411" y="639" width="1" height="50"/>
<rect x="419" y="650" width="1" height="39"/>
<rect x="427" y="652" width="1" height="37"/>
<rect x="435" y="656" width="1" height="33"/>
<rect x="443" y="658" width="1" height="31"/>
<rect x="451" y="660" width="1" height="29"/>
<rect x="459" y="661" width="1" height="28"/>
<rect x="467" y="661" width="1" height="28"/>
<rect x="475" y="662" width="1" height="27"/>
<rect x="483" y="661" width="1" height="28"/>
<rect x="491" y="661" width="1" height="28"/>
<rect x="499" y="663" width="1" height="26"/>
<rect x="507" y="670" width="1" height="19"/>
<rect x="515" y="682" width="1" height="7"/>
<rect x="523" y="688" width="1" height="12"/>
<rect x="531" y="688" width="1" height="27"/>
<rect x="539" y="688" width="1" height="42"/>
<rect x="547" y="688" width="1" height="52"/>
<rect x="555" y="688" width="1" height="54"/>
<rect x="563" y="688" width="1" height="50"/>
<rect x="571" y="688" width="1" height="44"/>
<rect x="579" y="688" width="1" height="38"/>
<rect x="587" y="688" width="1" height="35"/>
<rect x="595" y="688" width="1" height="31"/>
<rect x="603" y="688" width="1" height="25"/>
<rect x="611" y="688" width="1" height="28"/>
<rect x="619" y="688" width="1" height="28"/>
<rect x="627" y="688" width="1" height="23"/>
<rect x="635" y="688" width="1" height="15"/>
<rect x="643" y="688" width="1" height="8"/>
<rect x="651" y="688" width="1" height="4"/>
<rect x="659" y="688" width="1" height="6"/>
<rect x="667" y="688" width="1" height="9"/>
<rect x="675" y="688" width="1" height="16"/>
<rect x="683" y="688" width="1" height="22"/>
<rect x="691" y="688" width="1" height="25"/>
<rect x="699" y="688" width="1" height="31"/>
<rect x="707" y="688" width="1" height="36"/>
<rect x="715" y="688" width="1" height="34"/>
<rect x="723" y="688" width="1" height="30"/>
<rect x="731" y="688" width="1" height="26"/>
<rect x="739" y="688" width="1" height="23"/>
<rect x="747" y="688" width="1" height="22"/>
<rect x="755" y="688" width="1" height="20"/>
<rect x="763" y="688" width="1" height="24"/>
<rect x="771" y="688" width="1" height="29"/>
<rect x="779" y="688" width="1" height="34"/>
<rect x="787" y="688" width="1" height="39"/>
<rect x="795" y="688" width="1" height="38"/>
<rect x="803" y="688" width="1" height="23"/>
<rect x="811" y="688" width="1" height="13"/>
<rect x="819" y="687" width="1" height="2"/>
<rect x="827" y="674" width="1" height="15"/>
<rect x="835" y="663" width="1" height="26"/>
<rect x="843" y="654" width="1" height="35"/>
<rect x="851" y="648" width="1" height="41"/>
<rect x="859" y="644" width="1" height="45"/>
<rect x="867" y="645" width="1" height="44"/>
<rect x="875" y="644" width="1" height="45"/>
<rect x="883" y="641" width="1" height="48"/>
<rect x="891" y="637" width="1" height="52"/>
<rect x="899" y="636" width="1" height="53"/>
<rect x="907" y="636" width="1" height="53"/>
<rect x="915" y="640" width="1" height="49"/>
<rect x="923" y="639" width="1" height="50"/>
<rect x="931" y="638" width="1" height="51"/>
<rect x="939" y="640" width="1" height="49"/>
<rect x="947" y="636" width="1" height="53"/>
<rect x="955" y="633" width="1" height="56"/>
<rect x="963" y="632" width="1" height="57"/>
<rect x="971" y="629" width="1" height="60"/>
<rect x="979" y="627" width="1" height="62"/>
<rect x="987" y="629" width="1" height="60"/>
<rect x="995" y="630" width="1" height="59"/>
<rect x="1003" y="628" width="1" height="61"/>
<rect x="1011" y="625" width="1" height="64"/>
<rect x="1019" y="623" width="1" height="66"/>
<rect x="1027" y="623" width="1" height="66"/>
<rect x="1035" y="626" width="1" height="63"/>
<rect x="1043" y="628" width="1" height="61"/>
<rect x="1051" y="629" width="1" height="60"/>
<rect x="1059" y="622" width="1" height="67"/>
<rect x="1067" y="616" width="1" height="73"/>
<rect x="1075" y="611" width="1" height="78"/>
<rect x="1083" y="609" width="1" height="80"/>
<rect x="1091" y="607" width="1" height="82"/>
<rect x="1099" y="604" width="1" height="85"/>
<rect x="1107" y="599" width="1" height="90"/>
<rect x="1115" y="596" width="1" height="93"/>
<rect x="1123" y="598" width="1" height="91"/>
<rect x="1131" y="601" width="1" height="88"/>
<rect x="1139" y="607" width="1" height="82"/>
<rect x="1147" y="609" width="1" height="80"/>
<rect x="1155" y="612" width="1" height="77"/>
<rect x="1163" y="612" width="1" height="77"/>
<rect x="1171" y="616" width="1" height="73"/>
<rect x="1179" y="617" width="1" height="72"/>
<rect x="1187" y="612" width="1" height="77"/>
<rect x="1195" y="608" width="1" height="81"/>
<rect x="1203" y="605" width="1" height="84"/>
<rect x="1211" y="607" width="1" height="82"/>
<rect x="1219" y="600" width="1" height="89"/>
<rect x="1227" y="592" width="1" height="97"/>
<rect x="1235" y="590" width="1" height="99"/>
<rect x="1243" y="592" width="1" height="97"/>
<rect x="1251" y="597" width="1" height="92"/>
<rect x="1259" y="604" width="1" height="85"/>
<rect x="1267" y="603" width="1" height="86"/>
<rect x="1275" y="606" width="1" height="83"/>
<rect x="1283" y="607" width="1" height="82"/>
<rect x="1291" y="615" width="1" height="74"/>
<rect x="1299" y="624" width="1" height="65"/>
<rect x="1307" y="632" width="1" height="57"/>
<rect x="1315" y="637" width="1" height="52"/>
<rect x="1323" y="636" width="1" height="53"/>
<rect x="1331" y="637" width="1" height="52"/>
<rect x="1339" y="641" width="1" height="48"/>
<rect x="1347" y="646" width="1" height="43"/>
<rect x="1355" y="650" width="1" height="39"/>
<rect x="1363" y="651" width="1" height="38"/>
<rect x="1371" y="660" width="1" height="29"/>
<rect x="1379" y="666" width="1" height="23"/>
<rect x="1387" y="674" width="1" height="15"/>
<rect x="1395" y="682" width="1" height="7"/>
<rect x="1403" y="688" width="1" height="1"/>
<rect x="1411" y="688" width="1" height="4"/>
<rect x="1419" y="688" width="1" height="8"/>
</g>
<polyline fill="none" shape-rendering="crispEdges" stroke="#ff0000" stroke-width="1" stroke-dasharray="3 3" points="0.0,639.4 40.0,639.4 58.0,641.4 76.0,642.2 86.0,640.2 98.0,636.2 110.0,632.8 122.0,626.8 136.0,621.8 148.0,615.8 158.0,612.8 166.0,611.8 198.0,611.8 212.0,614.2 224.0,618.8 240.0,623.8 254.0,628.8 268.0,633.8 284.0,637.8 296.0,639.8 306.0,642.8 324.0,645.8 343.0,648.4 356.0,646.4 364.0,643.8 376.0,637.8 388.0,632.8 400.0,628.8 410.0,626.4 420.0,627.8 434.0,633.4 446.0,640.8 460.0,647.8 472.0,652.8 484.0,657.4 492.0,658.4 500.0,659.2 510.0,662.2 520.0,666.8 530.0,672.8 540.0,681.8 548.0,690.8 556.0,699.8 564.0,709.8 572.0,716.8 580.0,723.4 588.0,727.4 596.0,730.2 604.0,729.2 612.0,728.2 620.0,725.4 628.0,721.8 636.0,717.8 644.0,713.8 652.0,709.8 660.0,707.2 670.0,704.2 676.0,703.2 682.0,702.2 694.0,702.2 706.0,705.2 718.0,709.4 728.0,713.8 746.0,716.2 764.0,716.2 770.0,715.4 784.0,716.2 808.0,715.8 820.0,711.8 832.0,705.8 840.0,699.8 850.0,688.8 860.0,677.8 870.0,666.8 880.0,657.8 890.0,649.8 900.0,644.8 912.0,639.8 930.0,638.4 948.0,637.2 956.0,636.2 972.0,635.4 980.0,634.2 996.0,632.4 1008.0,629.8 1021.0,627.4 1028.0,625.8 1052.0,625.8 1062.0,624.8 1070.0,622.2 1086.0,619.8 1100.0,616.2 1112.0,610.8 1128.0,604.2 1140.0,603.4 1148.0,602.2 1164.0,603.4 1176.0,605.8 1186.0,608.4 1204.0,610.4 1214.0,609.8 1226.0,606.8 1242.0,603.4 1250.0,599.4 1256.0,598.6 1282.0,598.5 1292.0,600.1 1298.4,602.7 1304.8,606.5 1310.5,609.9 1316.2,613.5 1328.9,619.8 1341.6,626.1 1354.3,632.5 1367.0,639.5 1379.7,646.5 1392.4,653.5 1402.5,659.8 1411.4,666.8 1419.0,672.5"/>
<g shape-rendering="crispEdges" stroke="#c0c0c0" stroke-dasharray="3 3">
<line x1="2" y1="788.5" x2="1685" y2="788.5"/>
<line x1="2" y1="839.5" x2="1685" y2="839.5"/>
<line x1="2" y1="900.5" x2="1685" y2="900.5"/>
</g>
<polyline fill="none" shape-rendering="crispEdges" stroke="#1e90ff" stroke-width="1"  points="3.5,824.4 11.5,828.4 19.5,827.4 27.5,831.4 35.5,821.4 43.5,818.4 51.5,826.4 59.5,822.4 67.5,821.4 75.5,818.4 83.5,802.4 91.5,802.4 99.5,813.4 107.5,813.4 115.5,813.4 123.5,804.4 131.5,804.4 139.5,803.4 147.5,799.4 155.5,816.0 163.5,817.4 171.5,825.4 179.5,814.4 187.5,811.0 195.5,806.4 203.5,828.4 211.5,826.4 219.5,827.4 227.5,829.4 235.5,825.4 243.5,830.4 251.5,824.4 259.5,821.0 267.5,817.4 275.5,810.6 283.5,829.4 291.5,826.4 299.5,836.4 307.5,836.4 315.5,834.4 323.5,828.4 331.5,819.0 339.5,815.0 347.5,803.4 355.5,801.4 363.5,800.4 371.5,801.4 379.5,817.4 387.5,834.0 395.5,826.4 403.5,830.4 411.5,830.4 419.5,845.4 427.5,833.4 435.5,836.4 443.5,833.4 451.5,832.4 459.5,832.4 467.5,829.4 475.5,829.4 483.5,825.4 491.5,829.0 499.5,831.4 507.5,848.4 515.5,861.0 523.5,875.0 531.5,876.4 539.5,879.4 547.5,875.0 555.5,861.0 563.5,848.0 571.5,844.4 579.5,841.4 587.5,845.4 595.5,842.4 603.5,838.4 611.5,854.4 619.5,848.4 627.5,840.0 635.5,830.4 643.5,831.4 651.5,835.0 659.5,844.0 667.5,848.0 675.5,857.4 683.5,857.4 691.5,855.4 699.5,862.4 707.5,862.4 715.5,848.4 723.5,844.0 731.5,842.4 739.5,842.4 747.5,846.4 755.5,844.4 763.5,859.4 771.5,862.4 779.5,863.4 787.5,867.4 795.5,852.0 803.5,824.4 811.5,827.4 819.5,816.4 827.5,815.4 835.5,812.4 843.5,814.4 851.5,814.4 859.5,813.4 867.5,826.4 875.5,821.4 883.5,817.0 891.5,812.4 899.5,819.4 907.5,819.4 915.5,827.4 923.5,819.4 931.5,819.4 939.5,824.4 947.5,811.4 955.5,812.4 963.5,814.4 971.5,809.4 979.5,807.4 987.5,821.4 995.5,817.0 1003.5,811.0 1011.5,807.4 1019.5,807.4 1027.5,810.0 1035.5,816.0 1043.5,818.4 1051.5,813.4 1059.5,798.4 1067.5,797.4 1075.5,795.4 1083.5,801.4 1091.5,798.4 1099.5,796.4 1107.5,790.4 1115.5,790.4 1123.5,802.4 1131.5,807.4 1139.5,815.4 1147.5,810.0 1155.5,808.4 1163.5,804.4 1171.5,813.4 1179.5,809.4 1187.5,797.4 1195.5,796.4 1203.5,794.4 1211.5,810.4 1219.5,798.4 1227.5,792.6 1235.5,806.0 1243.5,811.0 1251.5,818.0 1259.5,822.4 1267.5,812.4 1275.5,819.4 1283.5,815.4 1291.5,830.0 1299.5,835.4 1307.5,835.4 1315.5,830.0 1323.5,822.4 1331.5,822.4 1339.5,832.4 1347.5,833.4 1355.5,832.4 1363.5,825.4 1371.5,847.0 1379.5,843.4 1387.5,848.4 1395.5,851.4 1403.5,849.4 1411.5,854.4 1419.5,850.0"/>
<g id="ann">
<line x1="1241.5" y1="55.6" x2="1454.5" y2="197.4" stroke="#ff0000" stroke-width="3.3" shape-rendering="crispEdges"/><polygon fill="#ff0000" points="1462.2,202.6 1450.2,200.2 1455.3,192.5"/>
<line x1="1256.3" y1="589" x2="1419.7" y2="682.9" stroke="#ff0000" stroke-width="3.1" shape-rendering="crispEdges"/><polygon fill="#ff0000" points="1427.8,687.5 1415.7,685.9 1420.3,677.9"/>
<line x1="1218" y1="796.3" x2="1423.8" y2="852.2" stroke="#ff0000" stroke-width="3.3" shape-rendering="crispEdges"/><polygon fill="#ff0000" points="1432.8,854.6 1420.7,856.1 1423.1,847.2"/>
<rect x="1358" y="162" width="107" height="6" fill="#00ff00"/>
<rect x="300.5" y="275.5" width="61" height="18" fill="#fff" stroke="#ff0000" stroke-width="1"/><text x="331.0" y="290.5" font-size="16.5" fill="#ff0000" text-anchor="middle" textLength="58" lengthAdjust="spacingAndGlyphs">0.74122</text>
<path d="M362 284.5H371" fill="none" stroke="#ff0000" shape-rendering="crispEdges"/>
<rect x="1156.5" y="43.5" width="61" height="18" fill="#fff" stroke="#ff0000" stroke-width="1"/><text x="1187.0" y="58.5" font-size="16.5" fill="#ff0000" text-anchor="middle" textLength="58" lengthAdjust="spacingAndGlyphs">0.78194</text>
<path d="M1218 52.5H1227" fill="none" stroke="#ff0000" shape-rendering="crispEdges"/>
<path d="M1236 164.5H1246" fill="none" stroke="#ff0000" shape-rendering="crispEdges"/>
<rect x="1246.5" y="152.5" width="73" height="24" fill="#fff" stroke="#ff0000" stroke-width="1"/><text x="1283.0" y="172" font-size="20" fill="#ff0000" text-anchor="middle" textLength="69" lengthAdjust="spacingAndGlyphs">0.76230</text>
<text class="cj" x="1477" y="183" font-size="20" fill="#00ff00" textLength="108" lengthAdjust="spacing">多空转折点</text>
<polygon points="1425.5,26 1435.5,26 1430.5,31" fill="#c0c0c0"/>
</g>
<g class="s" shape-rendering="crispEdges">
<rect x="1686" y="47" width="3" height="1" fill="#000"/>
<text x="1691" y="50.5">0.78285</text>
<rect x="1686" y="80" width="3" height="1" fill="#000"/>
<text x="1691" y="83.5">0.77715</text>
<rect x="1686" y="113" width="3" height="1" fill="#000"/>
<text x="1691" y="116.5">0.77130</text>
<rect x="1686" y="146" width="3" height="1" fill="#000"/>
<rect x="1686" y="179" width="3" height="1" fill="#000"/>
<text x="1691" y="182.5">0.75975</text>
<rect x="1686" y="212" width="3" height="1" fill="#000"/>
<rect x="1686" y="245" width="3" height="1" fill="#000"/>
<text x="1691" y="248.5">0.74805</text>
<rect x="1686" y="278" width="3" height="1" fill="#000"/>
<text x="1691" y="281.5">0.74235</text>
<rect x="1686" y="311" width="3" height="1" fill="#000"/>
<text x="1691" y="314.5">0.73650</text>
<rect x="1686" y="344" width="3" height="1" fill="#000"/>
<text x="1691" y="347.5">0.73065</text>
<rect x="1686" y="377" width="3" height="1" fill="#000"/>
<text x="1691" y="380.5">0.72495</text>
<rect x="1686" y="410" width="3" height="1" fill="#000"/>
<text x="1691" y="413.5">0.71910</text>
<rect x="1686" y="443" width="3" height="1" fill="#000"/>
<text x="1691" y="446.5">0.71325</text>
<rect x="1686" y="476" width="3" height="1" fill="#000"/>
<text x="1691" y="479.5">0.70755</text>
<rect x="1686" y="509" width="3" height="1" fill="#000"/>
<text x="1691" y="512.5">0.70170</text>
<rect x="1686" y="542" width="3" height="1" fill="#000"/>
<text x="1691" y="545.5">0.69585</text>
<rect x="1686" y="575" width="3" height="1" fill="#000"/>
<text x="1691" y="578.5">0.69015</text>
</g>
<rect x="1687" y="122" width="41" height="11" fill="#ff0000" shape-rendering="crispEdges"/><text x="1691.5" y="130.7" font-size="9" fill="#fff">0.76861</text>
<rect x="1687" y="140" width="41" height="11" fill="#ff0000" shape-rendering="crispEdges"/><text x="1691.5" y="148.7" font-size="9" fill="#fff">0.76546</text>
<rect x="1687" y="160" width="41" height="11" fill="#000000" shape-rendering="crispEdges"/><text x="1691.5" y="168.7" font-size="9" fill="#fff">0.76202</text>
<rect x="1687" y="158" width="41" height="11" fill="#ffa500" shape-rendering="crispEdges"/><text x="1691.5" y="166.7" font-size="9" fill="#fff">0.76230</text>
<rect x="1687" y="188" width="41" height="11" fill="#0000ff" shape-rendering="crispEdges"/><text x="1691.5" y="196.7" font-size="9" fill="#fff">0.75704</text>
<rect x="1687" y="208" width="41" height="11" fill="#0000ff" shape-rendering="crispEdges"/><text x="1691.5" y="216.7" font-size="9" fill="#fff">0.75353</text>
<g class="s">
<text x="11" y="36.5" textLength="68" lengthAdjust="spacingAndGlyphs">AUDUSD-,Daily</text><text x="85" y="36.5" textLength="141" lengthAdjust="spacingAndGlyphs">0.76057 0.76254 0.76007 0.76202</text>
<polygon points="0,36 3,32 6,36" fill="#000"/>
<text x="0" y="592.5" textLength="150" lengthAdjust="spacingAndGlyphs">MACD(12,26,9) -0.000827 0.001281</text>
<text x="0" y="764.5" textLength="67" lengthAdjust="spacingAndGlyphs">RSI(14) 44.0281</text>
<text x="1689.5" y="590.5">0.009081</text>
<text x="1689.5" y="691.5">0.00</text>
<text x="1689.5" y="746.5">-0.005306</text>
<text x="1689.5" y="762.2">100</text>
<text x="1689.5" y="791.5">80</text>
<text x="1689.5" y="842.0">50</text>
<text x="1689.5" y="903.5">15</text>
<text x="1689.5" y="922.5">0</text>
</g>
<g shape-rendering="crispEdges" fill="#000">
<rect x="1686" y="581" width="3" height="1"/>
<rect x="1686" y="688" width="3" height="1"/>
<rect x="1686" y="749" width="3" height="1"/>
<rect x="1686" y="753" width="3" height="1"/>
<rect x="1686" y="788" width="3" height="1"/>
<rect x="1686" y="839" width="3" height="1"/>
<rect x="1686" y="900" width="3" height="1"/>
<rect x="1686" y="925" width="3" height="1"/>
</g>
<g class="s">
<rect x="-5" y="927" width="1" height="3" fill="#000" shape-rendering="crispEdges"/><text x="-5.5" y="938.5" textLength="41.5" lengthAdjust="spacingAndGlyphs">7 Jul 2020</text>
<rect x="59" y="927" width="1" height="3" fill="#000" shape-rendering="crispEdges"/><text x="58.5" y="938.5" textLength="46.5" lengthAdjust="spacingAndGlyphs">17 Jul 2020</text>
<rect x="123" y="927" width="1" height="3" fill="#000" shape-rendering="crispEdges"/><text x="122.5" y="938.5" textLength="46.5" lengthAdjust="spacingAndGlyphs">27 Jul 2020</text>
<rect x="187" y="927" width="1" height="3" fill="#000" shape-rendering="crispEdges"/><text x="186.5" y="938.5" textLength="47.5" lengthAdjust="spacingAndGlyphs">5 Aug 2020</text>
<rect x="251" y="927" width="1" height="3" fill="#000" shape-rendering="crispEdges"/><text x="250.5" y="938.5" textLength="52.5" lengthAdjust="spacingAndGlyphs">14 Aug 2020</text>
<rect x="315" y="927" width="1" height="3" fill="#000" shape-rendering="crispEdges"/><text x="314.5" y="938.5" textLength="52.5" lengthAdjust="spacingAndGlyphs">24 Aug 2020</text>
<rect x="379" y="927" width="1" height="3" fill="#000" shape-rendering="crispEdges"/><text x="378.5" y="938.5" textLength="46.5" lengthAdjust="spacingAndGlyphs">2 Sep 2020</text>
<rect x="443" y="927" width="1" height="3" fill="#000" shape-rendering="crispEdges"/><text x="442.5" y="938.5" textLength="51.5" lengthAdjust="spacingAndGlyphs">11 Sep 2020</text>
<rect x="507" y="927" width="1" height="3" fill="#000" shape-rendering="crispEdges"/><text x="506.5" y="938.5" textLength="51.5" lengthAdjust="spacingAndGlyphs">21 Sep 2020</text>
<rect x="571" y="927" width="1" height="3" fill="#000" shape-rendering="crispEdges"/><text x="570.5" y="938.5" textLength="51.5" lengthAdjust="spacingAndGlyphs">30 Sep 2020</text>
<rect x="635" y="927" width="1" height="3" fill="#000" shape-rendering="crispEdges"/><text x="634.5" y="938.5" textLength="45.5" lengthAdjust="spacingAndGlyphs">9 Oct 2020</text>
<rect x="699" y="927" width="1" height="3" fill="#000" shape-rendering="crispEdges"/><text x="698.5" y="938.5" textLength="50.5" lengthAdjust="spacingAndGlyphs">19 Oct 2020</text>
<rect x="763" y="927" width="1" height="3" fill="#000" shape-rendering="crispEdges"/><text x="762.5" y="938.5" textLength="50.5" lengthAdjust="spacingAndGlyphs">28 Oct 2020</text>
<rect x="827" y="927" width="1" height="3" fill="#000" shape-rendering="crispEdges"/><text x="826.5" y="938.5" textLength="48.0" lengthAdjust="spacingAndGlyphs">6 Nov 2020</text>
<rect x="891" y="927" width="1" height="3" fill="#000" shape-rendering="crispEdges"/><text x="890.5" y="938.5" textLength="53.0" lengthAdjust="spacingAndGlyphs">16 Nov 2020</text>
<rect x="955" y="927" width="1" height="3" fill="#000" shape-rendering="crispEdges"/><text x="954.5" y="938.5" textLength="53.0" lengthAdjust="spacingAndGlyphs">25 Nov 2020</text>
<rect x="1019" y="927" width="1" height="3" fill="#000" shape-rendering="crispEdges"/><text x="1018.5" y="938.5" textLength="46.0" lengthAdjust="spacingAndGlyphs">4 Dec 2020</text>
<rect x="1083" y="927" width="1" height="3" fill="#000" shape-rendering="crispEdges"/><text x="1082.5" y="938.5" textLength="51.0" lengthAdjust="spacingAndGlyphs">14 Dec 2020</text>
<rect x="1147" y="927" width="1" height="3" fill="#000" shape-rendering="crispEdges"/><text x="1146.5" y="938.5" textLength="51.0" lengthAdjust="spacingAndGlyphs">23 Dec 2020</text>
<rect x="1211" y="927" width="1" height="3" fill="#000" shape-rendering="crispEdges"/><text x="1210.5" y="938.5" textLength="43.5" lengthAdjust="spacingAndGlyphs">4 Jan 2021</text>
<rect x="1275" y="927" width="1" height="3" fill="#000" shape-rendering="crispEdges"/><text x="1274.5" y="938.5" textLength="48.5" lengthAdjust="spacingAndGlyphs">13 Jan 2021</text>
<rect x="1339" y="927" width="1" height="3" fill="#000" shape-rendering="crispEdges"/><text x="1338.5" y="938.5" textLength="48.5" lengthAdjust="spacingAndGlyphs">22 Jan 2021</text>
<rect x="1403" y="927" width="1" height="3" fill="#000" shape-rendering="crispEdges"/><text x="1402.5" y="938.5" textLength="45.5" lengthAdjust="spacingAndGlyphs">1 Feb 2021</text>
</g>
<g id="panel">
<rect x="0" y="45" width="217" height="64" fill="#fff"/>
<rect x="0" y="45" width="50" height="24" fill="url(#gt)"/><rect x="165" y="45" width="52" height="24" fill="url(#gt)"/>
<rect x="0" y="69" width="107" height="40" fill="url(#gb)"/><rect x="109" y="69" width="108" height="40" fill="url(#gb)"/>
<rect x="2" y="69" width="44" height="1" fill="#8a8af8"/><rect x="169" y="69" width="44" height="1" fill="#8a8af8"/>
<rect x="52.5" y="45.5" width="110" height="21" fill="#fff" stroke="#a8a8a8"/>
<rect x="53.5" y="46.5" width="19" height="19" fill="url(#gs)" stroke="#c8c8c8"/><rect x="142.5" y="46.5" width="19" height="19" fill="url(#gs)" stroke="#c8c8c8"/>
<polygon points="60,54 66,54 63,57.5" fill="#4a5cb0"/><polygon points="149,57.5 155,57.5 152,54" fill="#4a5cb0"/>
<text x="23.5" y="61" font-size="12" fill="#fff" text-anchor="middle" textLength="25.5" lengthAdjust="spacingAndGlyphs">SELL</text><text x="190" y="61" font-size="12" fill="#fff" text-anchor="middle" textLength="22.5" lengthAdjust="spacingAndGlyphs">BUY</text>
<text x="137" y="60.5" font-size="12" fill="#000" text-anchor="end">1.00</text>
<text x="18" y="99.5" font-size="12" font-weight="bold" fill="#fff">0.76</text><text x="45.5" y="99" font-size="33" fill="#fff" textLength="35.5" lengthAdjust="spacingAndGlyphs">20</text><text x="85" y="84" font-size="10.5" font-weight="bold" fill="#fff">2</text>
<text x="128" y="99.5" font-size="12" font-weight="bold" fill="#fff">0.76</text><text x="156.5" y="99" font-size="33" fill="#fff" textLength="34.5" lengthAdjust="spacingAndGlyphs">22</text><text x="196" y="84" font-size="10.5" font-weight="bold" fill="#fff">6</text>
</g>
</svg></body></html>
